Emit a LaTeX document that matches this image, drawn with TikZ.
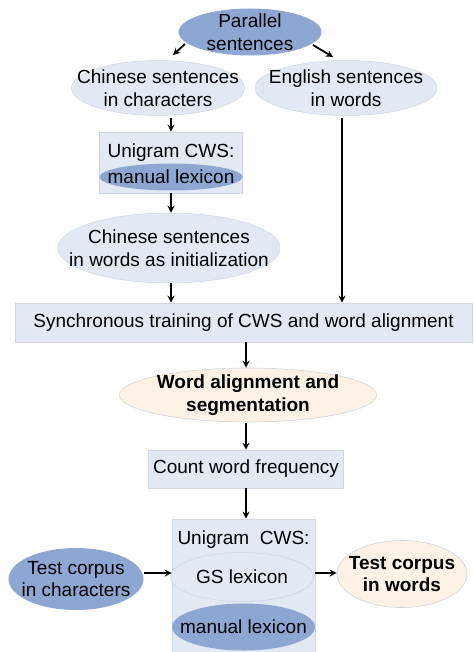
\documentclass[tikz,border=0pt]{standalone}
\usepackage{fontspec}
\setmainfont{Liberation Sans}
\usetikzlibrary{shapes.geometric,arrows.meta}
\definecolor{darkfill}{HTML}{8DA7D2}
\definecolor{lightfill}{HTML}{E2E9F3}
\definecolor{peachfill}{HTML}{FCF1E5}
\definecolor{softline}{HTML}{D0D5DE}
\tikzset{
  base/.style={font=\fontsize{19}{22.5}\selectfont, align=center, inner sep=0pt},
  boldtext/.style={base, font=\fontsize{19}{22.5}\selectfont\bfseries},
  darkell/.style={ellipse, inner sep=0pt, fill=darkfill},
  lightell/.style={ellipse, inner sep=0pt, fill=lightfill, draw=softline, line width=0.5pt},
  peachell/.style={ellipse, inner sep=0pt, fill=peachfill, draw=softline, line width=0.6pt},
  procbox/.style={base, rectangle, fill=lightfill, draw=softline, line width=0.6pt},
  arr/.style={-{Stealth[length=7pt,width=7pt]}, line width=1.8pt, black},
}
\begin{document}
\begin{tikzpicture}[x=1pt,y=-1pt]
\useasboundingbox (0,0) rectangle (473,652);

% top of the flow
\node[darkell, minimum width=143pt, minimum height=47pt] (par) at (250,32) {};
\node[base] (part) at (par) {Parallel\\sentences};
\node[lightell, minimum width=173pt, minimum height=55pt] (chin) at (158,88) {};
\node[base] (chint) at (chin) {Chinese sentences\\in characters};
\node[lightell, minimum width=182pt, minimum height=55pt] (eng) at (346,88) {};
\node[base] (engt) at (eng) {English sentences\\in words};

% first unigram segmenter with its manual lexicon
\node[procbox, minimum width=143pt, minimum height=61pt] (uni1) at (171,162.5) {};
\node[base] (uni1t) at (171,153) {Unigram CWS:};
\node[darkell, minimum width=143pt, minimum height=27pt] (man1) at (171,177) {};
\node[base] (man1t) at (man1) {manual lexicon};

\node[lightell, minimum width=222pt, minimum height=70pt] (init) at (169,248) {};
\node[base] (initt) at (init) {Chinese sentences\\in words as initialization};

\node[procbox, minimum width=457pt, minimum height=39pt] (sync) at (243.5,322.5) {Synchronous training of CWS and word alignment};

\node[peachell, minimum width=257pt, minimum height=54pt] (wa) at (248,395) {};
\node[boldtext] (wat) at (wa) {Word alignment and\\segmentation};

\node[procbox, minimum width=195pt, minimum height=38pt] (cnt) at (246,469) {Count word frequency};

% final unigram segmenter with both lexicons
\node[procbox, minimum width=143pt, minimum height=136pt] (uni2) at (243.5,587) {};
\node[base] (uni2t) at (243.5,540) {Unigram\ \ CWS:};
\node[lightell, minimum width=143pt, minimum height=49pt] (gs) at (242,577) {};
\node[base] (gst) at (gs) {GS lexicon};
\node[darkell, minimum width=143pt, minimum height=47pt] (man2) at (243.5,627) {};
\node[base] (man2t) at (man2) {manual lexicon};

\node[darkell, minimum width=135pt, minimum height=62pt] (tin) at (76,579) {};
\node[base] (tint) at (tin) {Test corpus\\in characters};
\node[peachell, minimum width=130pt, minimum height=67pt] (tout) at (402,574) {};
\node[boldtext] (toutt) at (tout) {Test corpus\\in words};

% connectors
\coordinate (engx) at (342,0);
\draw[arr] (185,44) -- (173,55);
\draw[arr] (313,45) -- (333,57);
\draw[arr] (uni1.north |- chin.south) ++(0,2) -- (uni1.north);
\draw[arr] (uni1.south) -- (uni1.south |- init.north);
\draw[arr] (uni1.south |- init.south) -- (uni1.south |- sync.north);
\draw[arr] (engx |- eng.south) ++(0,2) -- (engx |- sync.north);
\draw[arr] (sync.south -| cnt.north) -- (cnt.north |- wa.north);
\draw[arr] (wa.south -| cnt.north) ++(0,1) -- (cnt.north);
\draw[arr] (cnt.south) -- (cnt.south |- uni2.north);
\draw[arr] (tin.east |- 0,573) -- (uni2.west |- 0,573);
\draw[arr] (uni2.east |- 0,573) -- (tout.west |- 0,573);
\end{tikzpicture}
\end{document}
